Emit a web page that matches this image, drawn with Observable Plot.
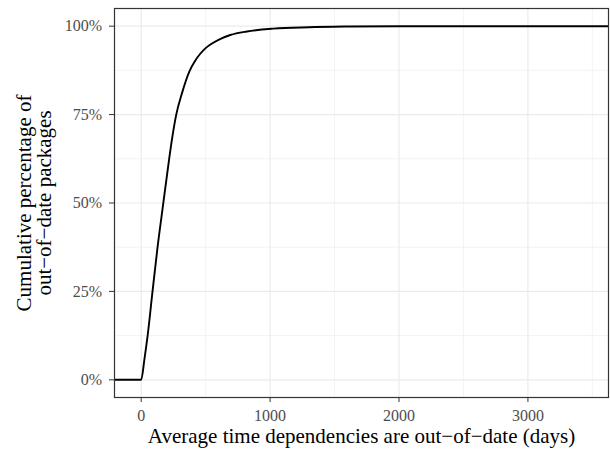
<!DOCTYPE html>
<html>
<head>
<meta charset="utf-8">
<script src="https://cdn.jsdelivr.net/npm/d3@7"></script>
<script src="https://cdn.jsdelivr.net/npm/@observablehq/plot@0.6"></script>
<style>
  html, body { margin: 0; padding: 0; background: white; }
</style>
</head>
<body>
<div id="chart"></div>
<script>
// Cumulative share of out-of-date packages vs. average days out-of-date
const days  = [-207, 0, 25, 50, 88, 127, 166, 217, 243, 272, 316, 375, 420, 458, 500, 549, 620, 691, 820, 1025, 1300, 1600, 2000, 2500, 3625];
const share = [0, 0, 0.058, 0.125, 0.25, 0.375, 0.484, 0.625, 0.69, 0.75, 0.81, 0.873, 0.903, 0.922, 0.938, 0.951, 0.965, 0.975, 0.985, 0.993, 0.997, 0.999, 1.0, 1.0, 1.0];

const xTicks = [0, 1000, 2000, 3000];
const xMinor = [500, 1500, 2500, 3500];
const yTicks = [0, 0.25, 0.5, 0.75, 1];
const yMinor = [0.125, 0.375, 0.625, 0.875];
const xTitle = "Average time dependencies are out\u2212of\u2212date (days)";
const yTitle = "Cumulative percentage of\nout\u2212of\u2212date packages";

const data = days.map((d, i) => ({days: d, share: share[i]}));

const chart = Plot.plot({
  width: 610,
  height: 451,
  marginLeft: 114,
  marginRight: 2,
  marginTop: 8,
  marginBottom: 54,
  x: {domain: [-207, 3625]},
  y: {domain: [-0.05, 1.05]},
  style: {fontFamily: "'Liberation Serif', 'DejaVu Serif', serif", background: "white"},
  marks: [
    Plot.ruleX(xMinor, {stroke: "#ebebeb", strokeWidth: 0.6}),
    Plot.ruleY(yMinor, {stroke: "#ebebeb", strokeWidth: 0.6}),
    Plot.ruleX(xTicks, {stroke: "#ebebeb", strokeWidth: 1.2}),
    Plot.ruleY(yTicks, {stroke: "#ebebeb", strokeWidth: 1.2}),
    Plot.line(data, {x: "days", y: "share", stroke: "black", strokeWidth: 1.9, curve: "monotone-x", clip: true}),
    Plot.frame({stroke: "#333333", strokeWidth: 1.2}),
    Plot.axisX(xTicks, {tickSize: 5, tickPadding: 7, fontSize: 16, stroke: "#333333", fill: "#4d4d4d", label: null, tickFormat: d => String(d)}),
    Plot.axisY(yTicks, {tickSize: 5, tickPadding: 7.5, fontSize: 16, stroke: "#333333", fill: "#4d4d4d", label: null, tickFormat: d => Math.round(d * 100) + "%"}),
    Plot.text([xTitle], {frameAnchor: "bottom", dy: 45, fontSize: 21, fill: "black", lineAnchor: "bottom"}),
    Plot.text([yTitle], {frameAnchor: "left", textAnchor: "middle", dx: -80, rotate: -90, fontSize: 21, fill: "black", lineHeight: 0.95, lineAnchor: "middle"})
  ]
});
document.getElementById("chart").appendChild(chart);
</script>
</body>
</html>
